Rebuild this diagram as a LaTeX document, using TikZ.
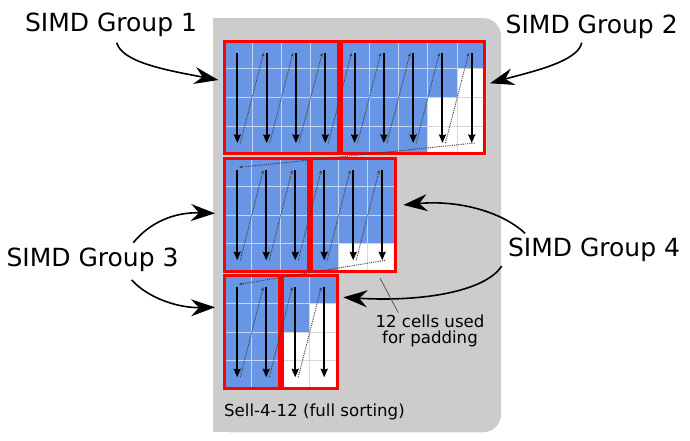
\documentclass[tikz,border=0pt]{standalone}
\usepackage{fontspec}
\setmainfont{DejaVu Sans}
\usetikzlibrary{arrows.meta}

\definecolor{cellblue}{RGB}{104,150,228}
\definecolor{gridblue}{RGB}{196,214,248}
\definecolor{gridgray}{RGB}{216,216,216}
\definecolor{bggray}{RGB}{204,204,204}
\definecolor{dotgray}{RGB}{60,60,60}

% one block of slices: #1 name, #2 top edge, #3 cell width, #4 filled rows per column
\newcommand{\sellblock}[4]{
    \foreach \h [count=\i from 0] in {#4} {
        \pgfmathsetmacro{\xl}{222.7+#3*\i}
        \foreach \r in {0,...,3} {
            \ifnum\r<\h\relax
                \filldraw[cell] (\xl,#2+28.8*\r) rectangle ++(#3,28.8);
            \else
                \filldraw[padcell] (\xl,#2+28.8*\r) rectangle ++(#3,28.8);
            \fi
        }
        \coordinate (#1-\i-top) at (\xl+#3/2,#2+13);
        \coordinate (#1-\i-bot) at (\xl+#3/2,#2+103);
    }
}

\begin{document}
\begin{tikzpicture}[
            x = 1pt, y = -1pt, % pixel grid, y runs down
            cell/.style = {fill = cellblue, draw = gridblue, line width = 0.8pt},
            padcell/.style = {fill = white, draw = gridgray, line width = 0.8pt},
            groupbox/.style = {draw = red, line width = 3pt, inner sep = 0, outer sep = 0},
            colarrow/.style = {-{Stealth[length=8.5pt, width=7pt, inset=1pt]}, line width = 2pt},
            dotlink/.style = {-{Stealth[length=3.5pt, width=3pt]}, dash pattern = on 1.1pt off 1.1pt, line width = 0.9pt, draw = dotgray},
            callout/.style = {-{Stealth[length=24pt, width=17pt, inset=8pt]}, line width = 1.6pt},
            biglabel/.style = {font = \fontsize{25}{30}\selectfont, inner sep = 0, anchor = base},
            smalllabel/.style = {font = \fontsize{16.6}{16}\selectfont, inner sep = 0}
        ]

    \useasboundingbox (0,0) rectangle (690,440);

    % background
    \fill[bggray, rounded corners = 18pt] (213,18) rectangle (501,432.3);
    \fill[bggray] (213,18) rectangle (250,60);
    \fill[bggray] (213,390) rectangle (250,432.3);

    % cells
    \sellblock{b1}{40}{29.3}{4,4,4,4,4,4,4,2,1}
    \sellblock{b2}{157.3}{29}{4,4,4,4,3,3}
    \sellblock{b3}{274.3}{29}{4,4,2,1}

    % SIMD groups
    \node[groupbox, minimum width = 114.2pt, minimum height = 112.2pt] (g1) at (281.3,97.6) {};
    \node[groupbox, minimum width = 143.5pt, minimum height = 112.2pt] (g2) at (413.15,97.6) {};
    \node[groupbox, minimum width = 84pt, minimum height = 112.2pt] (g3a) at (266.2,214.9) {};
    \node[groupbox, minimum width = 84pt, minimum height = 112.2pt] (g4a) at (353.2,214.9) {};
    \node[groupbox, minimum width = 55pt, minimum height = 112.2pt] (g3b) at (251.7,331.9) {};
    \node[groupbox, minimum width = 55pt, minimum height = 112.2pt] (g4b) at (309.7,331.9) {};

    % storage order
    \foreach \b/\n in {b1/8, b2/5, b3/3} {
        \draw[colarrow] (\b-0-top) -- (\b-0-bot);
        \foreach \i in {1,...,\n} {
            \pgfmathtruncatemacro{\p}{\i-1}
            \draw[colarrow] (\b-\i-top) -- (\b-\i-bot);
            \draw[dotlink] ([xshift=3pt]\b-\p-bot) -- ([xshift=-3pt]\b-\i-top);
        }
    }
    \draw[dotlink] ([xshift=3pt]b1-8-bot) -- ([shift={(2pt,3pt)}]b2-0-top);
    \draw[dotlink] ([xshift=3pt]b2-5-bot) -- ([shift={(2pt,3pt)}]b3-0-top);

    % labels
    \node[biglabel] (l1) at (111,31.7) {SIMD Group 1};
    \node[biglabel] (l2) at (591.7,33.3) {SIMD Group 2};
    \node[biglabel] (l3) at (92.5,266.7) {SIMD Group 3};
    \node[biglabel] (l4) at (594,256.7) {SIMD Group 4};
    \node[smalllabel, align = center, anchor = north] (pad) at (430,315) {12 cells used\\for padding};
    \node[smalllabel, anchor = base west] (title) at (224,416) {Sell-4-12 (full sorting)};

    \draw[callout] ([shift={(5.7pt,-11pt)}]l1.base) .. controls (122,62) and (165,70) .. ([shift={(-5.9pt,17.6pt)}]g1.west);
    \draw[callout] ([shift={(-10pt,-9.4pt)}]l2.base) .. controls (578,62) and (530,72) .. ([shift={(5.1pt,14.3pt)}]g2.east);
    \draw[callout] ([shift={(40.8pt,24pt)}]l3.base) .. controls (150,222) and (175,212) .. ([shift={(-9.2pt,1.6pt)}]g3a.west);
    \draw[callout] ([shift={(39.2pt,-13.3pt)}]l3.base) .. controls (148,298) and (178,308) .. ([shift={(-9.2pt,24.6pt)}]g3b.west);
    \draw[callout] ([shift={(-69pt,23.4pt)}]l4.base) .. controls (500,210) and (455,200) .. ([shift={(8.1pt,9.9pt)}]g4a.east);
    \draw[callout] ([shift={(-92.3pt,-9.3pt)}]l4.base) .. controls (485,292) and (420,302) .. ([shift={(6.1pt,34.6pt)}]g4b.east);
    \draw[dotgray, line width = 0.6pt] ([shift={(-31.7pt,2.2pt)}]pad.north) -- ([shift={(-15.2pt,-7pt)}]g4a.south east);

\end{tikzpicture}
\end{document}
